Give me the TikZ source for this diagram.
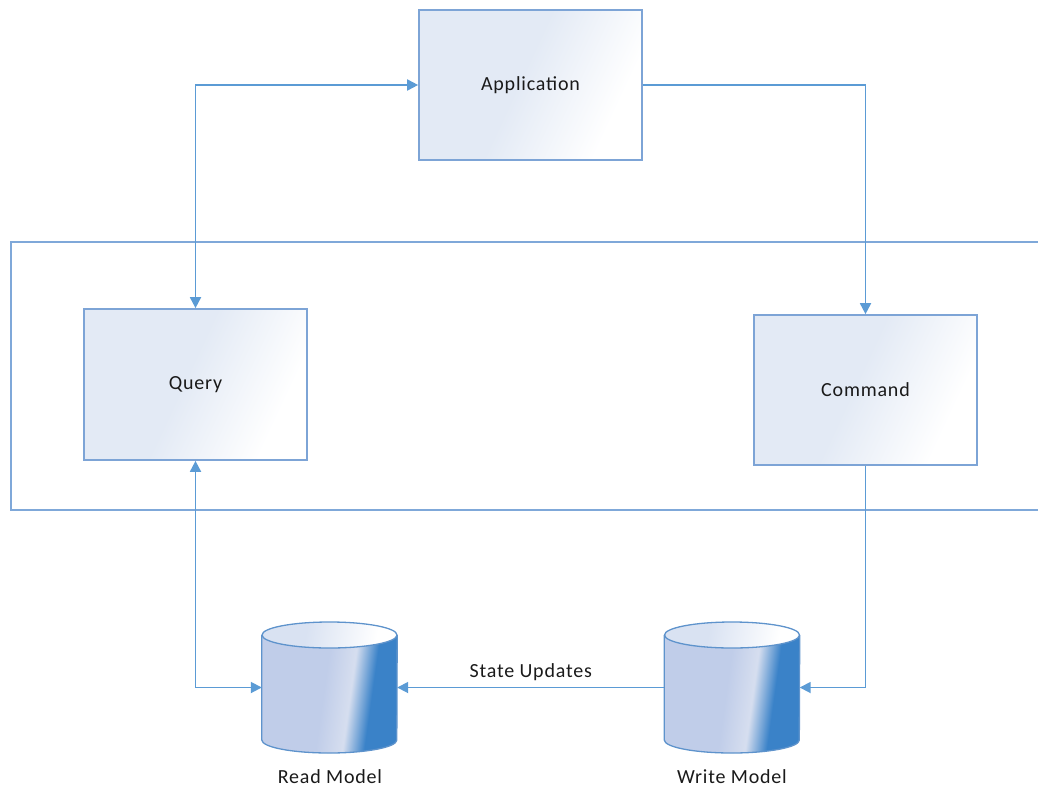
\documentclass[tikz,border=0pt]{standalone}
\usepackage{fontspec}
\setmainfont{Carlito}
\usetikzlibrary{arrows.meta,calc}
\definecolor{linec}{HTML}{5B9BD5}
\definecolor{boxborder}{HTML}{7DA4D6}
\definecolor{boxfill}{HTML}{E3EAF5}
\definecolor{framec}{HTML}{7FA8D9}
\definecolor{cylA}{HTML}{C0CDE9}
\definecolor{cylB}{HTML}{D6DEEF}
\definecolor{cylC}{HTML}{3A82C8}
\definecolor{cylTop}{HTML}{D9E2F2}
\definecolor{cylEdge}{HTML}{5E93CC}
\definecolor{txt}{HTML}{1A1A1A}
\pgfdeclarehorizontalshading{boxshade}{100bp}{color(0bp)=(boxfill); color(47bp)=(boxfill); color(72bp)=(white); color(100bp)=(white)}
\pgfdeclarehorizontalshading{cylshade}{100bp}{color(0bp)=(cylA); color(48bp)=(cylA); color(58bp)=(cylB); color(66bp)=(cylC); color(100bp)=(cylC)}
\pgfdeclarehorizontalshading{topshade}{100bp}{color(0bp)=(cylTop); color(40bp)=(cylTop); color(70bp)=(white); color(100bp)=(white)}
\tikzset{
  x=1pt, y=-1pt,
  every node/.style={font=\fontsize{20}{24}\selectfont\addfontfeatures{LetterSpace=4}, text=txt},
  box/.style={draw=boxborder, line width=1.7pt, shading=boxshade, shading angle=-25, minimum width=223pt, minimum height=150pt, inner sep=0pt},
  arr/.style={draw=linec, line width=1.8pt, arrows={-Triangle[length=11pt,width=11pt]}},
  barr/.style={draw=linec, line width=1.8pt, arrows={Triangle[length=11pt,width=11pt]-Triangle[length=11pt,width=11pt]}},
  cylnode/.style={minimum width=135pt, minimum height=131pt, inner sep=0pt},
  lbl/.style={inner sep=1pt},
}
\newcommand{\drawcyl}[1]{%
  \shade[shading=cylshade, shading angle=-8]
    ($(#1.west)+(0,-52.5)$) -- ($(#1.west)+(0,52.5)$)
    arc[start angle=180, end angle=360, x radius=67.5pt, y radius=13pt]
    -- ($(#1.east)+(0,-52.5)$)
    arc[start angle=0, end angle=180, x radius=67.5pt, y radius=13pt] -- cycle;
  \draw[cylEdge, line width=1.3pt]
    ($(#1.west)+(0,-52.5)$) -- ($(#1.west)+(0,52.5)$)
    arc[start angle=180, end angle=360, x radius=67.5pt, y radius=13pt]
    -- ($(#1.east)+(0,-52.5)$);
  \shade[shading=topshade, shading angle=-10, draw=cylEdge, line width=1.3pt]
    ($(#1.center)+(0,-52.5)$) ellipse[x radius=67.5pt, y radius=13pt];
}
\begin{document}
\begin{tikzpicture}
\useasboundingbox (0,0) rectangle (1038,787);
% outer frame (open on the right)
\coordinate (ftr) at (1038,242);
\coordinate (ftl) at (11,242);
\coordinate (fbl) at (11,510);
\coordinate (fbr) at (1038,510);
\draw[framec, line width=1.8pt] (ftr) -- (ftl) -- (fbl) -- (fbr);
% boxes
\node[box] (app) at (530.5,85) {Application};
\node[box, minimum height=151pt] (query) at (195.5,384.5) {Query};
\node[box] (cmd) at (865.5,390) {Command};
% cylinders
\node[cylnode] (read) at (329.5,687.5) {};
\node[cylnode] (write) at (732,687.5) {};
\drawcyl{read}
\drawcyl{write}
\node[lbl] (readlbl) at (330,777) {Read Model};
\node[lbl] (writelbl) at (732,777) {Write Model};
% connectors
\draw[barr] (query.north) |- (app.west);
\draw[arr] (app.east) -| (cmd.north);
\draw[barr] (query.south) |- (read.west);
\draw[arr] (write.west) -- node[above=3pt] {State Updates} (read.east);
\draw[arr] (cmd.south) |- (write.east);
\end{tikzpicture}
\end{document}
